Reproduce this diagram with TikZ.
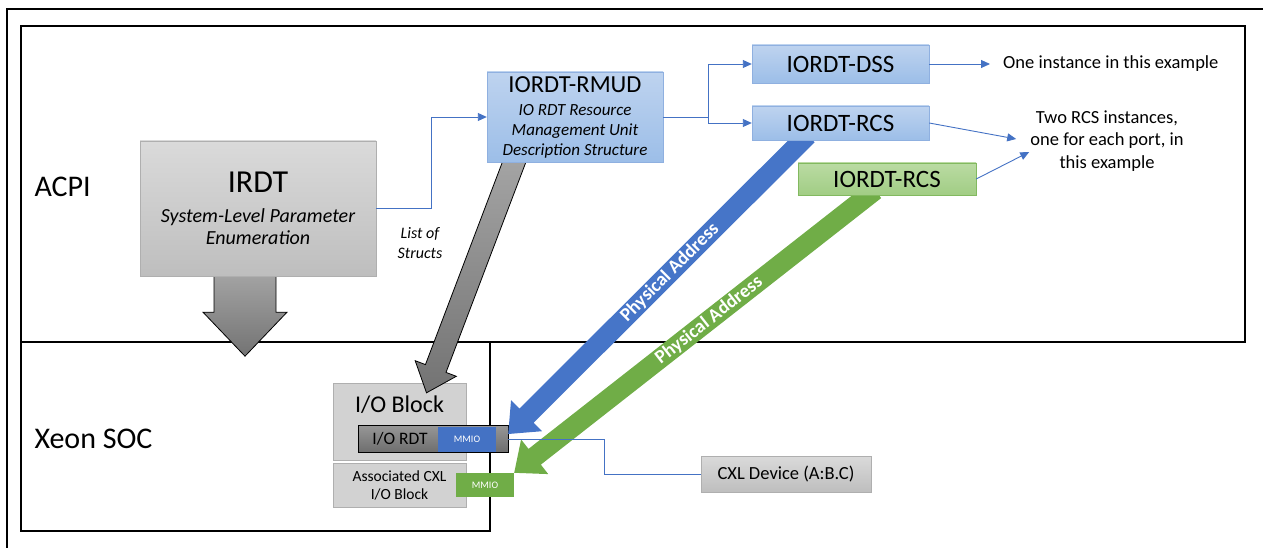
\documentclass[tikz,border=0pt]{standalone}
\usepackage{fontspec}
\setmainfont{Carlito}
\usetikzlibrary{calc, arrows.meta, positioning}

\definecolor{wireblue}{RGB}{68,114,196}
\definecolor{blueline}{RGB}{143,176,224}
\definecolor{bluetop}{RGB}{190,211,239}
\definecolor{bluebot}{RGB}{156,190,232}
\definecolor{greenline}{RGB}{130,185,95}
\definecolor{greentop}{RGB}{186,219,163}
\definecolor{greenbot}{RGB}{161,205,132}
\definecolor{grayline}{RGB}{175,175,175}
\definecolor{graytop}{RGB}{218,218,218}
\definecolor{graybot}{RGB}{190,190,190}
\definecolor{ioface}{RGB}{210,210,210}
\definecolor{rdttop}{RGB}{150,150,150}
\definecolor{rdtbot}{RGB}{110,110,110}
\definecolor{mmioblue}{RGB}{68,114,196}
\definecolor{mmiogreen}{RGB}{112,173,71}
\definecolor{fatblue}{RGB}{70,117,200}
\definecolor{fatgreen}{RGB}{112,173,71}
\definecolor{fattop}{RGB}{165,165,165}
\definecolor{fatbot}{RGB}{115,115,115}

\pgfdeclarelayer{background}
\pgfdeclarelayer{arrows}
\pgfsetlayers{background,arrows,main}

\tikzset{
  region/.style    = {rectangle, draw, line width=1.4pt, inner sep=0pt},
  regname/.style   = {font=\fontsize{30}{34}\selectfont, inner sep=0pt},
  graybox/.style   = {rectangle, draw=grayline, top color=graytop, bottom color=graybot, inner sep=0pt, align=center},
  bluebox/.style   = {rectangle, draw=blueline, top color=bluetop, bottom color=bluebot, inner sep=0pt, align=center, font=\fontsize{25}{28}\selectfont},
  greenbox/.style  = {bluebox, draw=greenline, top color=greentop, bottom color=greenbot},
  ioblock/.style   = {rectangle, draw=grayline, fill=ioface, inner sep=0pt, align=center},
  rdtbar/.style    = {rectangle, top color=rdttop, bottom color=rdtbot, inner sep=0pt},
  mmiotag/.style   = {rectangle, inner sep=0pt, text=white, font=\fontsize{10}{12}\selectfont},
  remark/.style    = {inner sep=0pt, align=center, font=\fontsize{18.5}{22.5}\selectfont},
  wire/.style      = {draw=wireblue, line width=0.9pt},
  feed/.style      = {wire, -{Triangle[length=9pt, width=8pt]}},
  biggray/.style   = {draw=black, line width=0.8pt, top color=fattop, bottom color=fatbot},
  bigblue/.style   = {fill=fatblue},
  biggreen/.style  = {fill=fatgreen},
  addrlabel/.style = {text=white, inner sep=0pt, font=\bfseries\fontsize{19}{22}\selectfont}
}

% block arrow: style, from, to, half shaft, half head, head length, name, label
\newcommand{\fatarrow}[8]{%
  \path[#1] let \p1=#2, \p2=#3, \n1={atan2(\y2-\y1,\x2-\x1)}, \p3=($(\p2)+({\n1+180}:#6)$) in
    ($(\p1)+({\n1+90}:#4)$) -- ($(\p3)+({\n1+90}:#4)$) -- ($(\p3)+({\n1+90}:#5)$) -- (\p2)
    -- ($(\p3)+({\n1-90}:#5)$) -- ($(\p3)+({\n1-90}:#4)$) -- ($(\p1)+({\n1-90}:#4)$) -- cycle;
  \if\relax\detokenize{#8}\relax\else
    \path let \p1=#2, \p2=#3, \n1={atan2(\y2-\y1,\x2-\x1)} in
      node[addrlabel, rotate={\n1+180}] (#7) at ($(\p1)!0.46!(\p2)$) {#8};
  \fi}

\begin{document}
\begin{tikzpicture}[x=1pt, y=-1pt]
  \useasboundingbox (0,0) rectangle (1263,548);

  % ACPI tables
  \node[graybox, font=\itshape\fontsize{20}{22}\selectfont, minimum width=236pt, minimum height=135pt] (irdt) at (258,208.5)
    {{\upshape\fontsize{32}{34}\selectfont IRDT}\\[8pt]System-Level Parameter\\Enumeration};
  \node[bluebox, font=\itshape\fontsize{17}{20}\selectfont, minimum width=176pt, minimum height=90pt] (rmud) at (575,117)
    {{\upshape\fontsize{24.5}{26}\selectfont IORDT-RMUD}\\[3pt]IO RDT Resource\\Management Unit\\Description Structure};
  \node[bluebox, minimum width=177pt, minimum height=38pt] (dss)  at (840.5,64)  {IORDT-DSS};
  \node[bluebox, minimum width=177pt, minimum height=34pt] (rcsa) at (840.5,123) {IORDT-RCS};
  \node[greenbox, minimum width=178pt, minimum height=32pt] (rcsb) at (887,179) {IORDT-RCS};

  \node[remark, anchor=west] (dssnote) at (1003,64) {One instance in this example};
  \node[remark] (rcsnote) at (1107,141) {Two RCS instances,\\one for each port, in\\this example};
  \node[remark, font=\itshape\fontsize{16}{20}\selectfont] (structs) at (420,243) {List of\\Structs};

  \node[graybox, font=\fontsize{18.5}{22}\selectfont, minimum width=170pt, minimum height=36pt] (cxldev) at (786,474) {CXL Device (A:B.C)};

  \begin{pgfonlayer}{background}
    \draw[line width=2.4pt] (7,548) -- (7,9) -- (1263,9);
    \node[region, minimum width=1224pt, minimum height=316pt] (acpi) at (633,184) {};
    \node[region, minimum width=469pt, minimum height=189pt] (soc) at (255.5,436.5) {};
    \node[regname, anchor=west] (acpiname) at ([xshift=14pt,yshift=-3pt]acpi.west) {ACPI};
    \node[regname, anchor=west] (socname) at ([xshift=14pt,yshift=-2pt]soc.west) {Xeon SOC};

    % Xeon SOC blocks
    \node[ioblock, minimum width=133pt, minimum height=77pt] (ioblk) at (399.5,421.5) {};
    \node[inner sep=0pt, font=\fontsize{24}{26}\selectfont] (iotitle) at ([yshift=-22pt]ioblk.north) {I/O Block};
    \node[ioblock, font=\fontsize{15.5}{18}\selectfont, minimum width=133pt, minimum height=44pt] (cxlblk) at (399.5,485) {Associated CXL\\I/O Block};
    \node[rdtbar, minimum width=149pt, minimum height=26pt] (iordt) at (433.5,439) {};
    \node[mmiotag, fill=mmioblue, minimum width=58pt, minimum height=25pt] (mmioa) at (467,439) {MMIO};
    \draw[line width=0.9pt] (iordt.north west) rectangle (iordt.south east);
    \node[inner sep=0pt, font=\fontsize{17.5}{20}\selectfont] (rdtname) at (400,439) {I/O RDT};
    \node[mmiotag, fill=mmiogreen, minimum width=58pt, minimum height=24pt] (mmiob) at (485,485) {MMIO};
  \end{pgfonlayer}

  \begin{pgfonlayer}{arrows}
    \fatarrow{biggray}{([xshift=-13pt,yshift=5pt]irdt.south)}{([xshift=-13pt,yshift=-80pt]irdt.south)}{31pt}{42pt}{44pt}{irdtdown}{}
    \fatarrow{biggray}{([xshift=-59pt,yshift=5pt]rmud.south)}{([xshift=27pt,yshift=-10pt]ioblk.north)}{11pt}{22pt}{26pt}{rmuddown}{}
    \fatarrow{bigblue}{([xshift=-33pt,yshift=5pt]rcsa.south)}{([yshift=5pt]iordt.east)}{10pt}{22pt}{26pt}{addrblue}{Physical Address}
    \fatarrow{biggreen}{([xshift=-12pt,yshift=5pt]rcsb.south)}{(mmiob.north east)}{10pt}{22pt}{26pt}{addrgreen}{Physical Address}
  \end{pgfonlayer}

  \draw[feed] (irdt.east) -- ++(55,0) |- (rmud.west);
  \draw[wire] (rmud.east) -- ++(45,0) coordinate (fork);
  \draw[feed] (fork) |- (dss.west);
  \draw[feed] (fork) |- (rcsa.west);
  \draw[feed] (dss.east) -- ([xshift=-13pt]dssnote.west);
  \draw[feed] (rcsa.east) -- ([xshift=-14pt,yshift=2pt]rcsnote.west);
  \draw[feed] (rcsb.east) -- ([xshift=-1pt,yshift=-11pt]rcsnote.west);
  \draw[wire] (iordt.east) -- ++(96,0) |- (cxldev.west);

\end{tikzpicture}
\end{document}
